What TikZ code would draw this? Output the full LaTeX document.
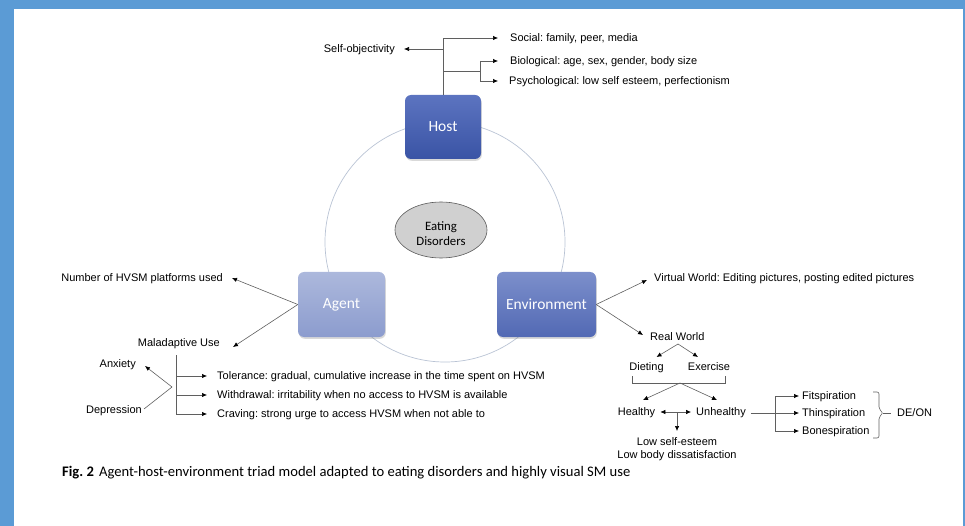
\documentclass[tikz,border=0pt]{standalone}
\usepackage{fontspec}
\setmainfont{Liberation Sans}
\newfontfamily\carlfont{Carlito}
\usetikzlibrary{arrows.meta,shapes.geometric,shadows}
\frenchspacing
\definecolor{frameblue}{RGB}{91,155,213}
\definecolor{lnc}{RGB}{95,95,95}
\definecolor{circc}{RGB}{185,195,212}
\definecolor{hosttop}{RGB}{92,116,192}
\definecolor{hostbot}{RGB}{58,84,165}
\definecolor{envtop}{RGB}{124,143,203}
\definecolor{envbot}{RGB}{82,105,180}
\definecolor{agtop}{RGB}{172,184,220}
\definecolor{agbot}{RGB}{140,156,206}
\definecolor{ellfill}{RGB}{208,208,208}
\begin{document}
\begin{tikzpicture}[x=1pt,y=-1pt,
  lbl/.style={font=\fontsize{11}{12}\selectfont, inner sep=0pt, text height=7.8pt, text depth=0pt},
  ln/.style={draw=lnc, line width=0.6pt},
  tip/.style={Latex[length=5pt,width=4.4pt,fill=black,color=black]},
  arr/.style={ln, -{Latex[length=5pt,width=4.4pt,color=black]}},
  darr/.style={ln, {Latex[length=5pt,width=4.4pt,color=black]}-{Latex[length=5pt,width=4.4pt,color=black]}},
  box/.style={rounded corners=6pt, minimum height=65pt, inner sep=0pt, text=white,
    font=\carlfont\fontsize{15.5}{18}\selectfont,
    drop shadow={opacity=0.3,shadow xshift=0.8pt,shadow yshift=-1.8pt}},
]
\useasboundingbox (0,0) rectangle (965,526);
% frame
\fill[frameblue] (0,0) rectangle (965,9);
\fill[frameblue] (0,0) rectangle (14,526);
\fill[frameblue] (962.5,0) rectangle (965,526);

% circle
\draw[circc, line width=0.7pt] (445,242) circle[radius=120];

% main nodes
\node[box, minimum width=76pt, minimum height=64pt, top color=hosttop, bottom color=hostbot] (host) at (443,127) {Host};
\node[box, minimum width=87pt, top color=agtop, bottom color=agbot] (agent) at (341.5,304.5) {Agent};
\node[box, minimum width=99pt, top color=envtop, bottom color=envbot] (env) at (546.5,304.5) {Environment};
\node[ellipse, draw=black!65, line width=0.6pt, fill=ellfill, minimum width=92pt, minimum height=56pt, inner sep=0pt,
  align=center, font=\carlfont\fontsize{12.8}{15}\selectfont] (ed) at (441,230) {};
\node[align=center, inner sep=0pt, font=\carlfont\fontsize{12.8}{15}\selectfont] (edt) at (441,234) {Eating\\Disorders};

% ---------- Host tree ----------
\node[lbl, anchor=west] (social) at (510,38) {Social: family, peer, media};
\node[lbl, anchor=east] (selfobj) at (395,49) {Self-objectivity};
\node[lbl, anchor=west] (bio) at (510,61) {Biological: age, sex, gender, body size};
\node[lbl, anchor=west] (psy) at (509,81) {Psychological: low self esteem, perfectionism};
\coordinate (t1) at (443,38);
\coordinate (t2) at (443,49);
\coordinate (t3) at (443,71);
\coordinate (b0) at (480,71);
\coordinate (b1) at (480,61);
\coordinate (b2) at (480,81);
\draw[ln] (host.north) -- (t1);
\draw[arr] (t1) -- ([xshift=-12pt]social.west);
\draw[arr] (t2) -- ([xshift=9pt]selfobj.east);
\draw[ln] (t3) -- (b0);
\draw[ln] (b1) -- (b2);
\draw[arr] (b1) -- ([xshift=-12pt]bio.west);
\draw[arr] (b2) -- ([xshift=-11pt]psy.west);

% ---------- Agent tree ----------
\node[lbl, anchor=east] (num) at (223,278) {Number of HVSM platforms used};
\node[lbl, anchor=east] (mal) at (220,343) {Maladaptive Use};
\draw[arr] (agent.west) -- ([xshift=9pt]num.east);
\draw[arr] (agent.west) -- ([xshift=13pt,yshift=-4pt]mal.east);
\node[lbl, anchor=west] (tol) at (217,376) {Tolerance: gradual, cumulative increase in the time spent on HVSM};
\node[lbl, anchor=west] (wd) at (217,395) {Withdrawal: irritability when no access to HVSM is available};
\node[lbl, anchor=west] (crv) at (217,414) {Craving: strong urge to access HVSM when not able to};
\coordinate (m0) at (176,355);
\coordinate (m1) at (176,376);
\coordinate (m2) at (176,395);
\coordinate (m3) at (176,414);
\draw[ln] (m0) -- (m3);
\draw[arr] (m1) -- ([xshift=-10pt]tol.west);
\draw[arr] (m2) -- ([xshift=-10pt]wd.west);
\draw[arr] (m3) -- ([xshift=-10pt]crv.west);
\node[lbl, anchor=east] (anx) at (136,364) {Anxiety};
\node[lbl, anchor=east] (dep) at (142,410) {Depression};
\coordinate (v) at (172,387);
\draw[arr] ([xshift=2pt,yshift=1pt]dep.east) -- (v) -- ([xshift=9pt,yshift=-2pt]anx.east);

% ---------- Environment tree ----------
\node[lbl, anchor=west] (vw) at (654,278) {Virtual World: Editing pictures, posting edited pictures};
\node[lbl, anchor=west] (rw) at (650,337) {Real World};
\draw[arr] (env.east) -- ([xshift=-7pt,yshift=-2pt]vw.west);
\draw[arr] (env.east) -- ([xshift=-7pt,yshift=2pt]rw.west);
\node[lbl, anchor=center] (diet) at (646.5,367) {Dieting};
\node[lbl, anchor=center] (exer) at (709,367) {Exercise};
\coordinate (r0) at (678,344);
\draw[arr] (r0) -- ([xshift=10pt,yshift=10pt]diet.center);
\draw[arr] (r0) -- ([xshift=-11pt,yshift=10pt]exer.center);
\coordinate (k1) at (632,376);
\coordinate (k2) at (725,376);
\coordinate (k0) at (680,383);
\draw[ln] (k1) -- (632,383) -- (725,383) -- (k2);
\node[lbl, anchor=center] (hl) at (636.5,412) {Healthy};
\node[lbl, anchor=center] (uh) at (721,412) {Unhealthy};
\draw[arr] (k0) -- ([xshift=6.5pt,yshift=12pt]hl.center);
\draw[arr] (k0) -- ([xshift=-4pt,yshift=12pt]uh.center);
\draw[darr] ([xshift=5pt]hl.east) -- ([xshift=-5pt]uh.west);
\coordinate (d0) at (677,412);
\node[font=\fontsize{11}{13}\selectfont, inner sep=0pt, align=center, anchor=north] (low) at (677,437)
  {Low self-esteem\\Low body dissatisfaction};
\draw[arr] (d0) -- ([yshift=6pt]low.north);
\node[lbl, anchor=west] (fit) at (802,396) {Fitspiration};
\node[lbl, anchor=west] (thin) at (802,413) {Thinspiration};
\node[lbl, anchor=west] (bone) at (802,431) {Bonespiration};
\coordinate (u0) at (775,413);
\coordinate (u1) at (775,396);
\coordinate (u2) at (775,431);
\draw[arr] ([xshift=5pt,yshift=-1pt]uh.east) -- ([xshift=-3pt]thin.west);
\draw[ln] (u1) -- (u2);
\draw[arr] (u1) -- ([xshift=-3pt]fit.west);
\draw[arr] (u2) -- ([xshift=-3pt]bone.west);
\node[lbl, anchor=west] (deon) at (897,413) {DE/ON};
\coordinate (br) at (883,413);
\draw[ln, rounded corners=2pt] (873,392) -- (879,392) -- (879,409) -- (br) -- (879,417) -- (879,438) -- (873,438);
\draw[ln] (br) -- ([xshift=-6pt]deon.west);

% caption
\node[anchor=west, inner sep=0pt, font=\carlfont\fontsize{14.6}{16}\selectfont] (cap) at (62,473)
  {\textbf{Fig. 2}\hspace{0.35em}Agent-host-environment triad model adapted to eating disorders and highly visual SM use};
\end{tikzpicture}
\end{document}
